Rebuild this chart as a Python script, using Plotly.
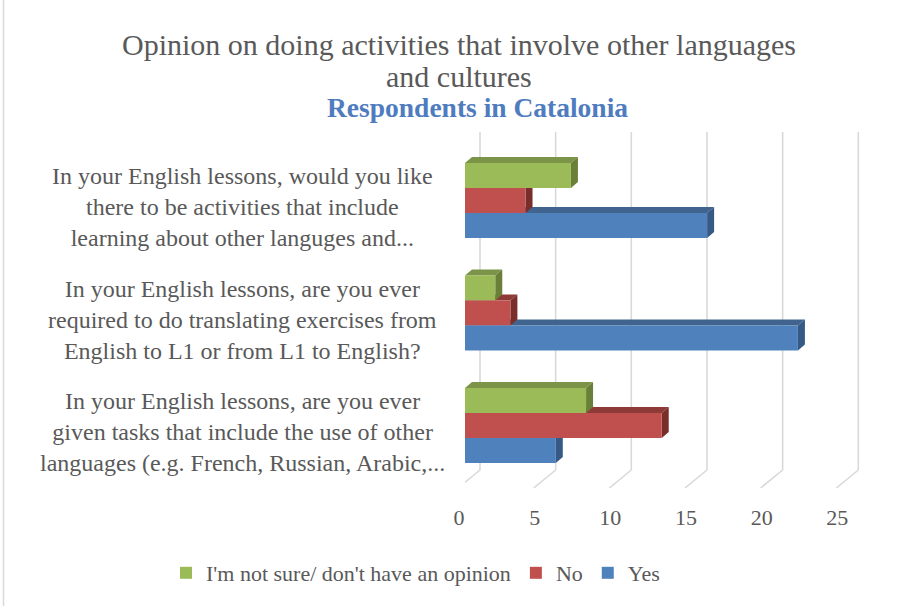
import plotly.graph_objects as go

# ---- data -------------------------------------------------------------
questions = [
    "In your English lessons, would you like<br>there to be activities that include<br>learning about other languges and...",
    "In your English lessons, are you ever<br>required to do translating exercises from<br>English to L1 or from L1 to English?",
    "In your English lessons, are you ever<br>given tasks that include the use of other<br>languages (e.g. French, Russian, Arabic,...",
]
series_names = ["I'm not sure/ don't have an opinion", "No", "Yes"]
not_sure = [7, 2, 8]
no = [4, 3, 13]
yes = [16, 22, 6]
x_ticks = [0, 5, 10, 15, 20, 25]

# ---- styling ----------------------------------------------------------
front_cols = ["#9BBB59", "#C0504D", "#4F81BD"]
top_cols = ["#7B9447", "#8E3B38", "#41648F"]
side_cols = ["#6A8039", "#7A2E2C", "#375985"]
TXT = "#595959"
FONT = "Liberation Serif"

W, H = 898, 606
ML, MR, MT, MB = 465, 32, 132, 118
X_MAX = 26.5
PX_X = (W - ML - MR) / X_MAX          # px per x unit
PX_Y = 112.5                          # px per category step
Y_TOP = -68.5 / PX_Y
Y_BOT = Y_TOP + (H - MT - MB) / PX_Y
FLOOR_BACK = (470 - 200.5) / PX_Y

BAR_W = 0.2222
offsets = [-0.3333, -0.1111, 0.1111]
DX, DY = 7, 6                          # depth of the 3-D bar faces (px)
GRID_BACK, GRID_FRONT = 15, -7         # wall / floor offsets (px)

values = [not_sure, no, yes]
cats = list(range(len(questions)))

fig = go.Figure()
for name, vals, off, col in zip(series_names, values, offsets, front_cols):
    fig.add_trace(go.Bar(
        name=name, x=vals, y=cats, orientation="h",
        width=BAR_W, offset=off,
        marker=dict(color=col, line=dict(width=0)),
    ))

shapes = []
# back wall gridlines and floor lines
for v in x_ticks:
    shapes.append(dict(type="line", layer="below", xref="x", yref="y",
                       xsizemode="pixel", xanchor=v, x0=GRID_BACK, x1=GRID_BACK,
                       y0=Y_TOP, y1=FLOOR_BACK,
                       line=dict(color="#D9D9D9", width=1.6)))
    shapes.append(dict(type="line", layer="below", xref="x", yref="y",
                       xsizemode="pixel", xanchor=v, x0=GRID_BACK, x1=GRID_FRONT,
                       y0=FLOOR_BACK, y1=Y_BOT,
                       line=dict(color="#D9D9D9", width=1.6)))

# top and side faces, lower bars first so upper bars overlap them
dxd = DX / PX_X
dyd = DY / PX_Y
for vals, off, tc, sc in reversed(list(zip(values, offsets, top_cols, side_cols))):
    for c, v in zip(cats, vals):
        yt = c + off
        yb = yt + BAR_W
        shapes.append(dict(type="path", layer="between", xref="x", yref="y",
                           ysizemode="pixel", yanchor=yt,
                           path=f"M 0,0 L {v},0 L {v + dxd},{DY} L {dxd},{DY} Z",
                           fillcolor=tc, line=dict(width=0)))
        shapes.append(dict(type="path", layer="between", xref="x", yref="y",
                           xsizemode="pixel", xanchor=v,
                           path=f"M 0,{yt} L 0,{yb} L {DX},{yb - dyd} L {DX},{yt - dyd} Z",
                           fillcolor=sc, line=dict(width=0)))

PH = H - MT - MB
PW = W - ML - MR


def py(p):
    return (H - MB - p) / PH


def px(p):
    return (p - ML) / PW


# thin frame line on the left edge
shapes.append(dict(type="line", xref="paper", yref="paper",
                   x0=px(3.5), x1=px(3.5), y0=py(0), y1=py(H),
                   line=dict(color="#D9D9D9", width=1.5)))

annotations = [
    dict(text="Opinion on doing activities that involve other languages",
         x=px(459), y=py(45), xref="paper", yref="paper", showarrow=False,
         xanchor="center", yanchor="middle", font=dict(family=FONT, size=30, color=TXT)),
    dict(text="and cultures",
         x=px(459), y=py(77), xref="paper", yref="paper", showarrow=False,
         xanchor="center", yanchor="middle", font=dict(family=FONT, size=30, color=TXT)),
    dict(text="<b>Respondents in Catalonia</b>",
         x=px(477), y=py(107), xref="paper", yref="paper", showarrow=False,
         xanchor="center", yanchor="middle", font=dict(family=FONT, size=27.5, color="#4F7CBF")),
]
for c, q in zip(cats, questions):
    annotations.append(dict(text=q, x=px(242), y=c, xref="paper", yref="y",
                            yshift=-6.5, showarrow=False, align="center",
                            xanchor="center", yanchor="middle",
                            font=dict(family=FONT, size=24, color=TXT)))

fig.update_layout(
    width=W, height=H,
    margin=dict(l=ML, r=MR, t=MT, b=MB),
    paper_bgcolor="white", plot_bgcolor="white",
    barmode="overlay",
    showlegend=True,
    legend=dict(orientation="h", x=px(166), xanchor="left",
                y=py(573), yanchor="middle",
                font=dict(family=FONT, size=22, color=TXT),
                traceorder="normal"),
    xaxis=dict(range=[0, X_MAX], tickvals=x_ticks, showgrid=False, zeroline=False,
               showline=False, ticks="", ticklabelshift=-6, ticklabelstandoff=14,
               tickfont=dict(family=FONT, size=22, color=TXT), fixedrange=True),
    yaxis=dict(range=[Y_BOT, Y_TOP], showgrid=False, zeroline=False, showline=False,
               showticklabels=False, ticks="", fixedrange=True),
    shapes=shapes,
    annotations=annotations,
)

fig.write_html("out.html")
